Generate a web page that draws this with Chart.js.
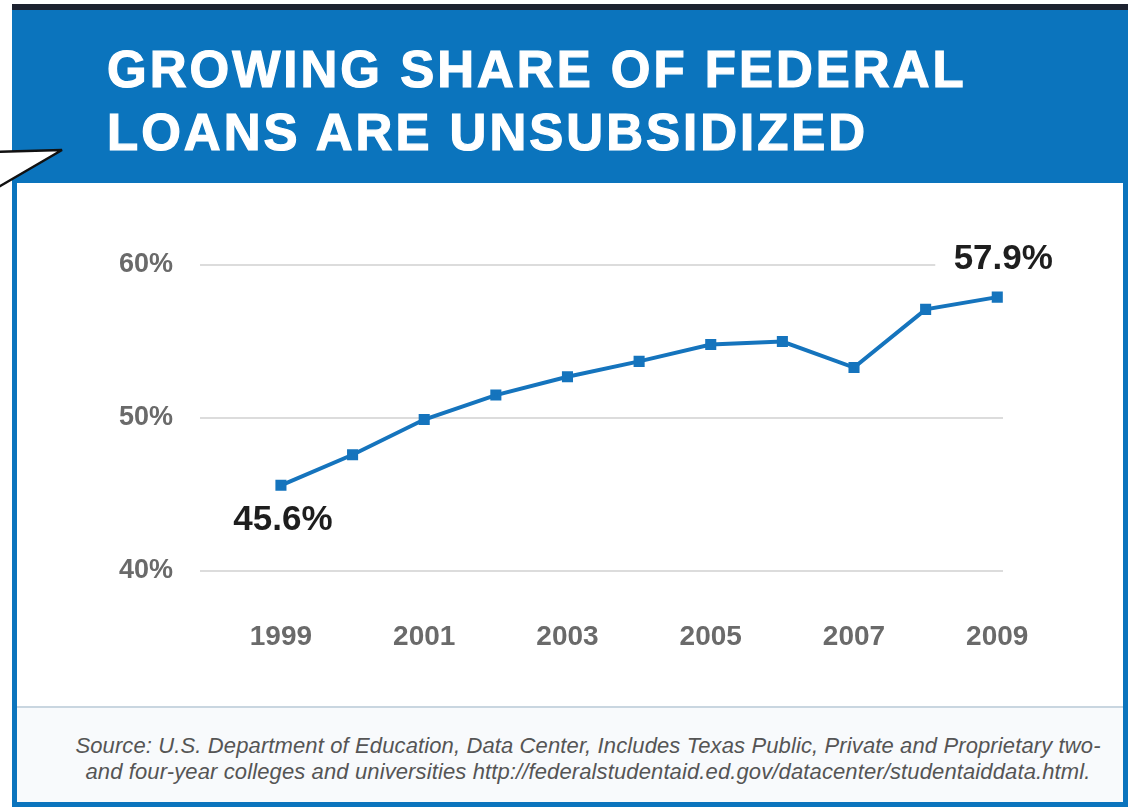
<!DOCTYPE html>
<html>
<head>
<meta charset="utf-8">
<script src="https://cdn.jsdelivr.net/npm/chart.js@4"></script>
<style>
  body { margin: 0; width: 1128px; height: 807px; background: #fff; position: relative; overflow: hidden; }
  .topbar { position: absolute; left: 12px; top: 4px; width: 1116px; height: 7px; background: #1c2230; }
  .header { position: absolute; left: 12px; top: 10px; width: 1116px; height: 173px; background: #0b74bd; }
  .title { position: absolute; left: 107px; top: 38px; color: #fff; font-family: "Liberation Sans", Arial, sans-serif;
           font-weight: bold; font-size: 51px; line-height: 63px; letter-spacing: 3px; -webkit-text-stroke: 1.2px #fff; }
  .frame { position: absolute; left: 12px; top: 183px; width: 1106px; height: 619px;
           border-left: 5px solid #0b74bd; border-right: 5px solid #0b74bd; border-bottom: 5px solid #0b74bd; }
  .footer { position: absolute; left: 17px; top: 706px; width: 1106px; height: 94px; background: #f8fafc; border-top: 2px solid #c9d6e0; }
  .source { position: absolute; left: 18px; width: 1106px; top: 25px; text-align: center; color: #555;
            font-family: "Liberation Sans", Arial, sans-serif; font-style: italic; font-size: 22px; line-height: 26px; letter-spacing: 0.12px; }
  #wrap { position: absolute; left: 17px; top: 183px; width: 1106px; height: 523px; }
  svg.tail { position: absolute; left: 0; top: 0; }
</style>
</head>
<body>
<div class="topbar"></div>
<div class="header"></div>
<div class="title">GROWING SHARE OF FEDERAL<br>LOANS ARE UNSUBSIDIZED</div>
<div class="frame"></div>
<div class="footer"><div class="source">Source: U.S. Department of Education, Data Center, Includes Texas Public, Private and Proprietary two-<br>and four-year colleges and universities http://federalstudentaid.ed.gov/datacenter/studentaiddata.html.</div></div>
<svg class="tail" width="80" height="200"><polygon points="-5,152 62,150 -5,189" fill="#fff" stroke="#111" stroke-width="2.5"/></svg>
<div id="wrap"><canvas id="lineChart" width="1106" height="523"></canvas></div>
<script>
const years = [1999, 2000, 2001, 2002, 2003, 2004, 2005, 2006, 2007, 2008, 2009];
const shares = [45.6, 47.6, 49.9, 51.5, 52.7, 53.7, 54.8, 55.0, 53.3, 57.1, 57.9];
const yearTicks = [1999, 2001, 2003, 2005, 2007, 2009];
const shareTicks = [40, 50, 60];

const blue = '#1574bd';
const sans = '"Liberation Sans", Arial, sans-serif';

// labels on the first and last points
const endLabels = {
  id: 'endLabels',
  afterDatasetsDraw(chart) {
    const ctx = chart.ctx;
    const pts = chart.getDatasetMeta(0).data;
    const first = pts[0], last = pts[pts.length - 1];
    ctx.save();
    ctx.font = 'bold 35px ' + sans;
    ctx.textAlign = 'center';
    ctx.textBaseline = 'middle';
    ctx.fillStyle = '#fff';
    ctx.fillRect(last.x - 62, last.y - 50, 137, 24);
    ctx.fillStyle = '#1e1e1e';
    ctx.fillText(shares[0].toFixed(1) + '%', first.x + 2, first.y + 35);
    ctx.fillText(shares[shares.length - 1].toFixed(1) + '%', last.x + 6, last.y - 38);
    ctx.restore();
  }
};

new Chart(document.getElementById('lineChart'), {
  type: 'line',
  data: {
    datasets: [{
      data: years.map((y, i) => ({ x: y, y: shares[i] })),
      borderColor: blue,
      backgroundColor: blue,
      borderWidth: 4,
      pointStyle: 'rect',
      pointRadius: 5,
      tension: 0
    }]
  },
  options: {
    responsive: false,
    animation: false,
    layout: { padding: { left: 93, right: 120, top: 82, bottom: 55 } },
    plugins: { legend: { display: false }, tooltip: { enabled: false } },
    scales: {
      x: {
        type: 'linear',
        min: 1997.87,
        max: 2009.08,
        afterBuildTicks: s => { s.ticks = yearTicks.map(v => ({ value: v })); },
        afterFit: s => { s.height = 80; },
        grid: { display: false, drawTicks: false },
        border: { display: false },
        ticks: { padding: 49, color: '#6a6a6a', font: { family: sans, size: 28, weight: 'bold' }, callback: v => String(v), maxRotation: 0, autoSkip: false }
      },
      y: {
        min: 40,
        max: 60,
        afterBuildTicks: s => { s.ticks = shareTicks.map(v => ({ value: v })); },
        afterFit: s => { s.width = 90; },
        grid: { color: '#dcdcdc', lineWidth: 2, drawTicks: false },
        border: { display: false },
        ticks: { padding: 27, color: '#6a6a6a', font: { family: sans, size: 27, weight: 'bold' }, callback: v => v + '%' }
      }
    }
  },
  plugins: [endLabels]
});
</script>
</body>
</html>
